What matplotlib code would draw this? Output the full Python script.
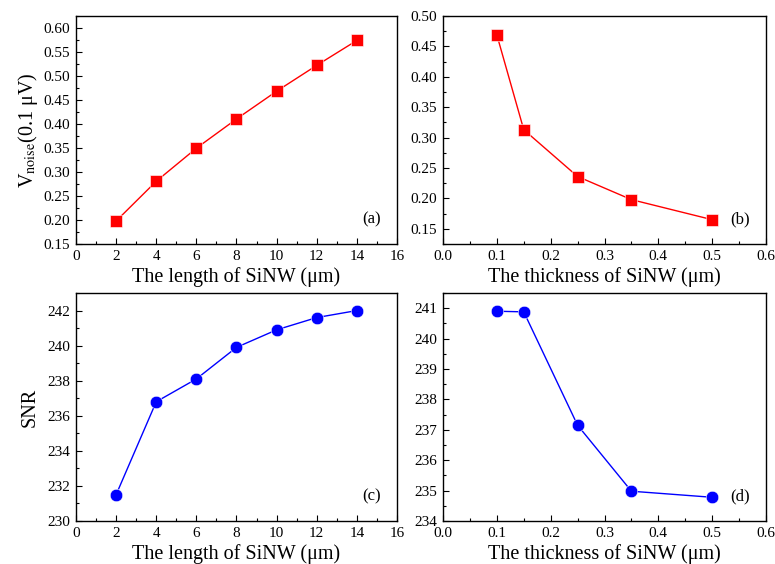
import matplotlib
matplotlib.use("Agg")
import matplotlib.pyplot as plt
from matplotlib.ticker import MultipleLocator, AutoMinorLocator

plt.rcParams['font.family'] = ['Liberation Serif', 'DejaVu Serif']
plt.rcParams['mathtext.fontset'] = 'stix'

# data
length = [2, 4, 6, 8, 10, 12, 14]
thick = [0.1, 0.15, 0.25, 0.35, 0.5]
vnoise_len = [0.198, 0.281, 0.350, 0.411, 0.469, 0.523, 0.575]
vnoise_thk = [0.469, 0.313, 0.236, 0.198, 0.165]
snr_len = [231.5, 236.8, 238.1, 239.9, 240.9, 241.6, 242.0]
snr_thk = [240.9, 240.88, 237.15, 234.98, 234.78]

fig = plt.figure(figsize=(7.75, 5.64), dpi=100)
W, H = 775, 564

def box(l, t, r, b):
    return [l / W, 1 - b / H, (r - l) / W, (b - t) / H]

ax_a = fig.add_axes(box(76, 16, 397, 244))
ax_b = fig.add_axes(box(443, 16, 766, 244))
ax_c = fig.add_axes(box(76, 293, 397, 521))
ax_d = fig.add_axes(box(443, 293, 766, 521))

red = '#ff0000'
blue = '#0000ff'

ax_a.plot(length, vnoise_len, '-s', color=red, lw=1, ms=8, mec='white', mew=0.4)
ax_b.plot(thick, vnoise_thk, '-s', color=red, lw=1, ms=8, mec='white', mew=0.4)
ax_c.plot(length, snr_len, '-o', color=blue, lw=1, ms=9, mec='white', mew=0.4)
ax_d.plot(thick, snr_thk, '-o', color=blue, lw=1, ms=9, mec='white', mew=0.4)

ax_a.set_xlim(0, 16)
ax_a.set_ylim(0.15, 0.626)
ax_a.xaxis.set_major_locator(MultipleLocator(2))
ax_a.yaxis.set_major_locator(MultipleLocator(0.05))
ax_a.yaxis.set_major_formatter(plt.FormatStrFormatter('%.2f'))

ax_b.set_xlim(0, 0.6)
ax_b.set_ylim(0.125, 0.5)
ax_b.xaxis.set_major_locator(MultipleLocator(0.1))
ax_b.xaxis.set_major_formatter(plt.FormatStrFormatter('%.1f'))
ax_b.yaxis.set_major_locator(MultipleLocator(0.05))
ax_b.yaxis.set_major_formatter(plt.FormatStrFormatter('%.2f'))

ax_c.set_xlim(0, 16)
ax_c.set_ylim(230, 243)
ax_c.xaxis.set_major_locator(MultipleLocator(2))
ax_c.yaxis.set_major_locator(MultipleLocator(2))

ax_d.set_xlim(0, 0.6)
ax_d.set_ylim(234, 241.5)
ax_d.xaxis.set_major_locator(MultipleLocator(0.1))
ax_d.xaxis.set_major_formatter(plt.FormatStrFormatter('%.1f'))
ax_d.yaxis.set_major_locator(MultipleLocator(1))

for ax in [ax_a, ax_b, ax_c, ax_d]:
    ax.xaxis.set_minor_locator(AutoMinorLocator(2))
    ax.yaxis.set_minor_locator(AutoMinorLocator(2))
    ax.tick_params(which='both', direction='in', top=False, right=False,
                   labelsize=11, pad=4)
    ax.tick_params(which='major', length=4, width=0.8)
    ax.tick_params(which='minor', length=2.5, width=0.8)
    for s in ax.spines.values():
        s.set_linewidth(1)

ax_a.set_xlabel('The length of SiNW (μm)', fontsize=14.5, labelpad=3)
ax_c.set_xlabel('The length of SiNW (μm)', fontsize=14.5, labelpad=3)
ax_b.set_xlabel('The thickness of SiNW (μm)', fontsize=14.5, labelpad=3)
ax_d.set_xlabel('The thickness of SiNW (μm)', fontsize=14.5, labelpad=3)
ax_a.set_ylabel(r'V$_{\mathrm{noise}}$(0.1 μV)', fontsize=14.5, labelpad=3)
ax_c.set_ylabel('SNR', fontsize=14.5, labelpad=6)

for ax, lab in [(ax_a, '(a)'), (ax_b, '(b)'), (ax_c, '(c)'), (ax_d, '(d)')]:
    ax.text(0.92, 0.11, lab, transform=ax.transAxes, fontsize=12,
            ha='center', va='center')

fig.savefig('out.png', dpi=100)
